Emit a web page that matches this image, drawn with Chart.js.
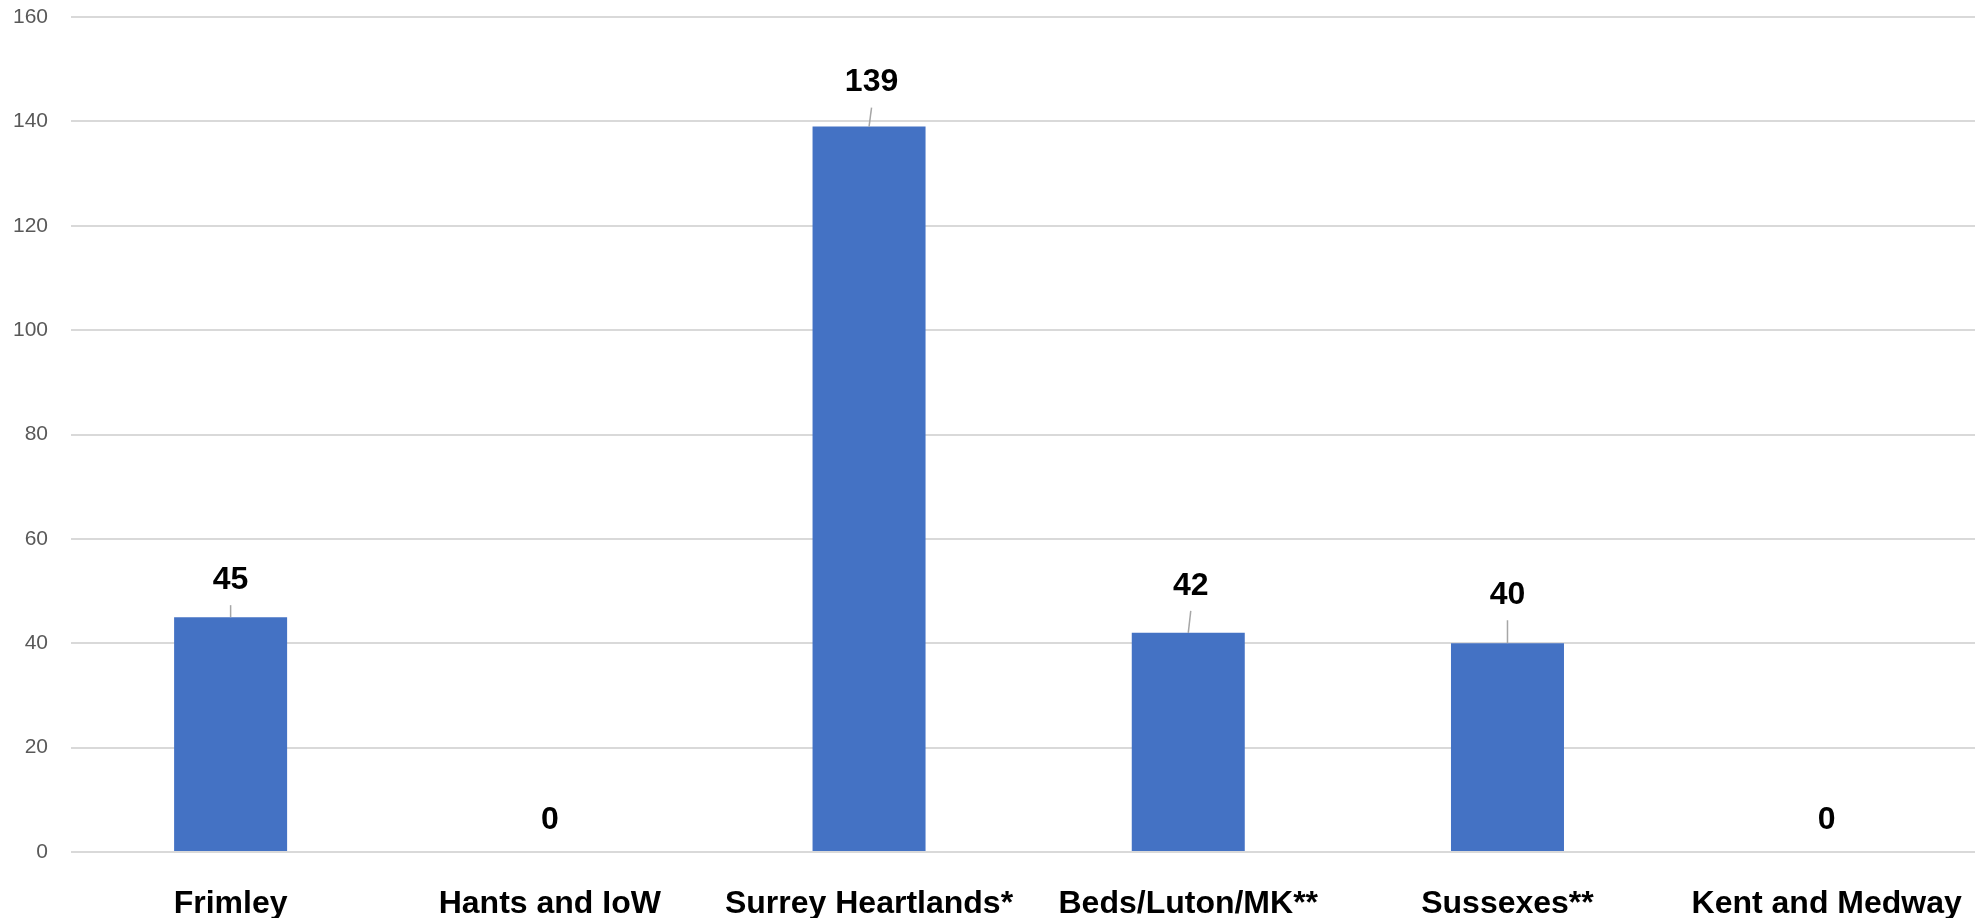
<!DOCTYPE html>
<html>
<head>
<meta charset="utf-8">
<script src="https://cdn.jsdelivr.net/npm/chart.js@4.4.1/dist/chart.umd.min.js"></script>
<style>
    html, body { margin: 0; padding: 0; background: #fff; overflow: hidden; }
    #wrap { width: 1975px; height: 920px; overflow: hidden; }
    canvas { display: block; }
</style>
</head>
<body>
<div id="wrap">
    <canvas id="regionChart" width="1990" height="920"></canvas>
</div>
<script>
// Figures per area
const regions = ['Frimley', 'Hants and IoW', 'Surrey Heartlands*', 'Beds/Luton/MK**', 'Sussexes**', 'Kent and Medway'];
const counts = [45, 0, 139, 42, 40, 0];
const yTicks = [0, 20, 40, 60, 80, 100, 120, 140, 160];

const labelFont = 'bold 32px "Liberation Sans", Arial, sans-serif';

// Value labels above each bar, with a short grey leader line
const valueLabels = {
    id: 'valueLabels',
    afterDatasetsDraw(chart, args, opts) {
        const ctx = chart.ctx;
        const meta = chart.getDatasetMeta(0);
        ctx.save();
        meta.data.forEach((bar, i) => {
            const v = chart.data.datasets[0].data[i];
            const lift = opts.lift[i];
            const dx = opts.dx[i];
            const top = bar.y;
            if (v > 0) {
                ctx.strokeStyle = '#a6a6a6';
                ctx.lineWidth = 1.5;
                ctx.beginPath();
                ctx.moveTo(bar.x, top);
                ctx.lineTo(bar.x + dx, top - (lift - 25));
                ctx.stroke();
            }
            ctx.fillStyle = '#000';
            ctx.font = labelFont;
            ctx.textAlign = 'center';
            ctx.textBaseline = 'middle';
            ctx.fillText(String(v), bar.x + dx, top - lift);
        });
        ctx.restore();
    }
};

const chart = new Chart(document.getElementById('regionChart'), {
    type: 'bar',
    data: {
        labels: regions,
        datasets: [{
            data: counts,
            backgroundColor: '#4472c4',
            borderWidth: 0,
            categoryPercentage: 1,
            barPercentage: 0.354
        }]
    },
    options: {
        responsive: false,
        animation: false,
        layout: { padding: { left: 13, right: 2, top: 17, bottom: 2 } },
        plugins: {
            legend: { display: false },
            tooltip: { enabled: false },
            valueLabels: {
                lift: [37, 32, 44, 47, 48, 32],
                dx: [0, 0, 2.5, 2.5, 0, 0]
            }
        },
        scales: {
            x: {
                afterFit(scale) { scale.height = 66; },
                grid: { display: false },
                border: { display: false },
                ticks: {
                    color: '#000',
                    padding: 28,
                    maxRotation: 0,
                    autoSkip: false,
                    font: { family: '"Liberation Sans", Arial, sans-serif', size: 32, weight: 'bold', lineHeight: 1 }
                }
            },
            y: {
                min: 0,
                max: 160,
                afterFit(scale) {
                    scale.width = 58;
                    scale.paddingTop = 0;
                    scale.paddingBottom = 0;
                },
                afterBuildTicks(scale) {
                    scale.ticks = yTicks.map(v => ({ value: v }));
                },
                grid: { color: '#d9d9d9', lineWidth: 2, drawTicks: false },
                border: { display: false },
                ticks: {
                    color: '#595959',
                    padding: 23,
                    font: { family: '"Liberation Sans", Arial, sans-serif', size: 21 }
                }
            }
        }
    },
    plugins: [valueLabels]
});
</script>
</body>
</html>
